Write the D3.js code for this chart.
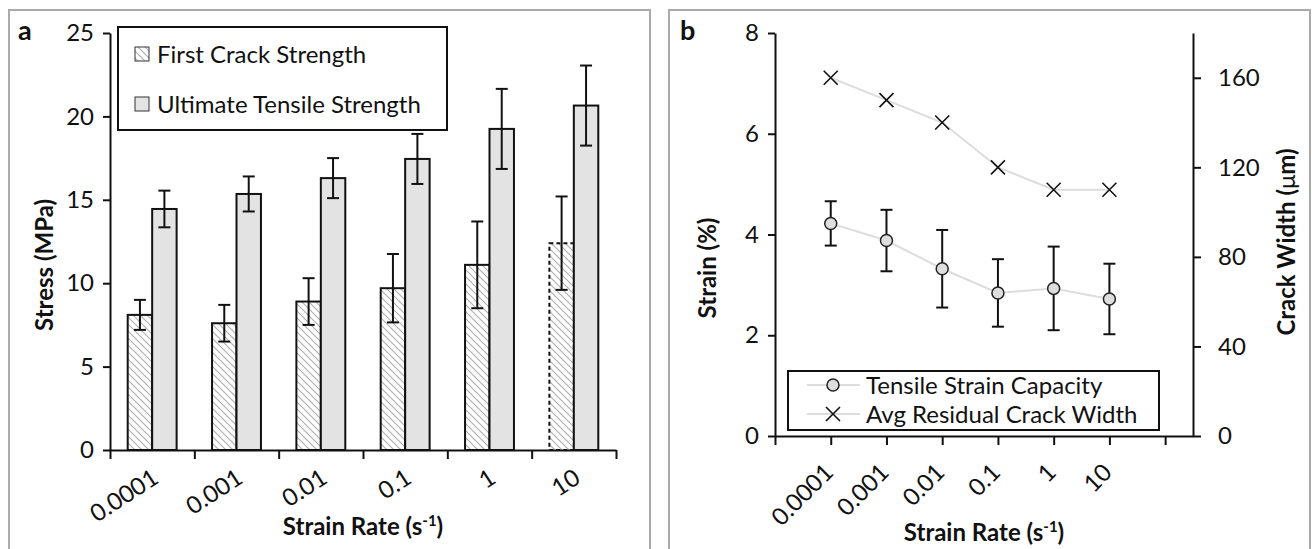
<!DOCTYPE html>
<html>
<head>
<meta charset="utf-8">
<script src="https://cdn.jsdelivr.net/npm/d3@7"></script>
<style>
body { margin: 0; background: #fff; }
text { font-family: Lato, "Open Sans", sans-serif; fill: #111; }
</style>
</head>
<body>
<svg id="chart" width="1312" height="549"></svg>
<script>
// values
var rates = ["0.0001", "0.001", "0.01", "0.1", "1", "10"];
var firstCrack = [8.1, 7.6, 8.9, 9.7, 11.1, 12.4];
var firstCrackErr = [0.9, 1.1, 1.4, 2.05, 2.6, 2.8];
var ultimate = [14.45, 15.35, 16.3, 17.45, 19.25, 20.65];
var ultimateErr = [1.1, 1.05, 1.2, 1.5, 2.4, 2.4];
var stressTicks = [0, 5, 10, 15, 20, 25];

var strain = [4.22, 3.88, 3.32, 2.84, 2.93, 2.72];
var strainErr = [0.44, 0.61, 0.77, 0.67, 0.83, 0.70];
var crackWidth = [160, 150, 140, 120, 110, 110];
var strainTicks = [0, 2, 4, 6, 8];
var widthTicks = [0, 40, 80, 120, 160];

var svg = d3.select("#chart");
var fs = 24;     // tick and legend text
var tfs = 24;    // bold axis titles

var defs = svg.append("defs");
defs.append("pattern")
    .attr("id", "hatch")
    .attr("patternUnits", "userSpaceOnUse")
    .attr("width", 7).attr("height", 7)
  .append("path")
    .attr("d", "M0,0L7,7M-1,6L1,8M6,-1L8,1")
    .attr("stroke", "#b0b0b0")
    .attr("stroke-width", 1.2);

// panel frames
svg.append("rect").attr("x", 9).attr("y", 10).attr("width", 641).attr("height", 560)
    .attr("fill", "none").attr("stroke", "#aaa").attr("stroke-width", 2);
svg.append("rect").attr("x", 669).attr("y", 10).attr("width", 641).attr("height", 560)
    .attr("fill", "none").attr("stroke", "#aaa").attr("stroke-width", 2);

var styleAxis = function(g) {
    g.selectAll("path, line").attr("stroke", "#111").attr("stroke-width", 2);
    g.selectAll("text").style("font-size", fs + "px").style("font-family", "Lato, sans-serif").attr("fill", "#111");
};

var errBar = function(g, x, y0, y1, cap) {
    g.append("line").attr("x1", x).attr("x2", x).attr("y1", y0).attr("y2", y1);
    g.append("line").attr("x1", x - cap).attr("x2", x + cap).attr("y1", y0).attr("y2", y0);
    g.append("line").attr("x1", x - cap).attr("x2", x + cap).attr("y1", y1).attr("y2", y1);
};

var rateTitle = function(g, x, y) {
    var t = g.append("text").attr("x", x).attr("y", y).attr("text-anchor", "middle")
        .style("font-size", tfs + "px").style("font-weight", "bold");
    t.append("tspan").text("Strain Rate (s");
    t.append("tspan").attr("dy", -9).style("font-size", "15px").text("-1");
    t.append("tspan").attr("dy", 9).text(")");
};

// ---------------- panel a ----------------
var a = svg.append("g");
var xa = d3.scaleBand().domain(rates).range([110, 616]);
var xaEdge = d3.scaleLinear().domain([0, rates.length]).range([110, 616]);
var ya = d3.scaleLinear().domain([0, 25]).range([450, 33]);
var bw = xa.bandwidth() * 0.29;

a.selectAll(".fc").data(firstCrack).enter().append("rect")
    .attr("x", function(d, i) { return xa(rates[i]) + xa.bandwidth() / 2 - bw; })
    .attr("y", function(d) { return ya(d); })
    .attr("width", bw)
    .attr("height", function(d) { return ya(0) - ya(d); })
    .attr("fill", "url(#hatch)")
    .attr("stroke", "#111").attr("stroke-width", 2)
    .attr("stroke-dasharray", function(d, i) { return i == rates.length - 1 ? "4,3" : null; });

a.selectAll(".uts").data(ultimate).enter().append("rect")
    .attr("x", function(d, i) { return xa(rates[i]) + xa.bandwidth() / 2; })
    .attr("y", function(d) { return ya(d); })
    .attr("width", bw)
    .attr("height", function(d) { return ya(0) - ya(d); })
    .attr("fill", "#e3e3e3")
    .attr("stroke", "#111").attr("stroke-width", 2);

var ea = a.append("g").attr("stroke", "#111").attr("stroke-width", 2);
rates.forEach(function(r, i) {
    var c = xa(r) + xa.bandwidth() / 2;
    errBar(ea, c - bw / 2, ya(firstCrack[i] + firstCrackErr[i]), ya(firstCrack[i] - firstCrackErr[i]), 6);
    errBar(ea, c + bw / 2, ya(ultimate[i] + ultimateErr[i]), ya(ultimate[i] - ultimateErr[i]), 6);
});

a.append("g").attr("transform", "translate(110,0)")
    .call(d3.axisLeft(ya).tickValues(stressTicks).tickSize(7).tickSizeOuter(0).tickPadding(9))
    .call(styleAxis);
a.append("g").attr("transform", "translate(0,450)")
    .call(d3.axisBottom(xaEdge).tickValues(d3.range(0, rates.length + 1)).tickFormat("").tickSize(9).tickSizeOuter(0))
    .call(styleAxis);

a.selectAll(".xl").data(rates).enter().append("text")
    .attr("transform", function(d) { return "translate(" + (xa(d) + xa.bandwidth() / 2 + 8) + ",482) rotate(-33)"; })
    .attr("text-anchor", "end")
    .style("font-size", fs + "px")
    .text(function(d) { return d; });

rateTitle(a, 363, 535);

a.append("text").attr("transform", "translate(53,265) rotate(-90)").attr("text-anchor", "middle")
    .style("font-size", tfs + "px").style("font-weight", "bold").text("Stress (MPa)");
a.append("text").attr("x", 18).attr("y", 40).style("font-size", "27px").style("font-weight", "bold").text("a");

// legend a
var la = a.append("g");
la.append("rect").attr("x", 118).attr("y", 27).attr("width", 329).attr("height", 103)
    .attr("fill", "#fff").attr("stroke", "#111").attr("stroke-width", 2);
[{ label: "First Crack Strength", fill: "url(#hatch)", y: 54 },
 { label: "Ultimate Tensile Strength", fill: "#e3e3e3", y: 104 }].forEach(function(e) {
    la.append("rect").attr("x", 135).attr("y", e.y - 7).attr("width", 14).attr("height", 14)
        .attr("fill", e.fill).attr("stroke", "#333").attr("stroke-width", 1);
    la.append("text").attr("x", 157).attr("y", e.y).attr("dy", "0.36em")
        .style("font-size", fs + "px").text(e.label);
});

// ---------------- panel b ----------------
var b = svg.append("g");
var xb = d3.scaleLinear().domain([0, 7.5]).range([775, 1193]);
var yb = d3.scaleLinear().domain([0, 8]).range([436, 33]);
var yr = d3.scaleLinear().domain([0, 180]).range([436, 33]);
var pos = function(i) { return xb(i + 1); };

var lineS = d3.line().x(function(d, i) { return pos(i); }).y(function(d) { return yb(d); });
var lineW = d3.line().x(function(d, i) { return pos(i); }).y(function(d) { return yr(d); });

b.append("path").datum(crackWidth).attr("d", lineW)
    .attr("fill", "none").attr("stroke", "#ddd").attr("stroke-width", 2);
b.append("path").datum(strain).attr("d", lineS)
    .attr("fill", "none").attr("stroke", "#ddd").attr("stroke-width", 2);

var eb = b.append("g").attr("stroke", "#111").attr("stroke-width", 2);
strain.forEach(function(d, i) {
    errBar(eb, pos(i), yb(d + strainErr[i]), yb(d - strainErr[i]), 6);
});

var cross = function(g, x, y) {
    g.append("path").attr("d", "M" + (x - 7) + "," + (y - 7) + "L" + (x + 7) + "," + (y + 7) +
        "M" + (x - 7) + "," + (y + 7) + "L" + (x + 7) + "," + (y - 7))
        .attr("stroke", "#111").attr("stroke-width", 1.6).attr("fill", "none");
};

b.selectAll(".pt").data(strain).enter().append("circle")
    .attr("cx", function(d, i) { return pos(i); })
    .attr("cy", function(d) { return yb(d); })
    .attr("r", 6)
    .attr("fill", "#dedede").attr("stroke", "#222").attr("stroke-width", 1.5);
crackWidth.forEach(function(d, i) { cross(b, pos(i), yr(d)); });

b.append("g").attr("transform", "translate(775,0)")
    .call(d3.axisLeft(yb).tickValues(strainTicks).tickSize(7).tickSizeOuter(0).tickPadding(9))
    .call(styleAxis);
b.append("g").attr("transform", "translate(1193,0)")
    .call(d3.axisRight(yr).tickValues(widthTicks).tickSize(8).tickSizeOuter(0).tickPadding(17))
    .call(styleAxis);
b.append("g").attr("transform", "translate(0,436)")
    .call(d3.axisBottom(xb).tickValues(d3.range(0, 8)).tickFormat("").tickSize(9).tickSizeOuter(0))
    .call(styleAxis);

b.selectAll(".xl").data(rates).enter().append("text")
    .attr("transform", function(d, i) { return "translate(" + (pos(i) + 4) + ",474) rotate(-45)"; })
    .attr("text-anchor", "end")
    .style("font-size", fs + "px")
    .text(function(d) { return d; });

rateTitle(b, 984, 541);

b.append("text").attr("transform", "translate(716,268) rotate(-90)").attr("text-anchor", "middle")
    .style("font-size", tfs + "px").style("font-weight", "bold").text("Strain (%)");
var tr = b.append("text").attr("transform", "translate(1295,242) rotate(-90)").attr("text-anchor", "middle")
    .style("font-size", tfs + "px").style("font-weight", "bold");
tr.append("tspan").text("Crack Width (");
tr.append("tspan").style("font-weight", "normal").text("\u03bc");
tr.append("tspan").text("m)");
b.append("text").attr("x", 680).attr("y", 40).style("font-size", "27px").style("font-weight", "bold").text("b");

// legend b
var lb = b.append("g");
lb.append("rect").attr("x", 788).attr("y", 371).attr("width", 371).attr("height", 59)
    .attr("fill", "#fff").attr("stroke", "#111").attr("stroke-width", 2);
[{ label: "Tensile Strain Capacity", y: 385, mark: "circle" },
 { label: "Avg Residual Crack Width", y: 414, mark: "cross" }].forEach(function(e) {
    lb.append("line").attr("x1", 807).attr("x2", 860).attr("y1", e.y).attr("y2", e.y)
        .attr("stroke", "#ddd").attr("stroke-width", 2);
    if (e.mark == "circle") {
        lb.append("circle").attr("cx", 833).attr("cy", e.y).attr("r", 6)
            .attr("fill", "#dedede").attr("stroke", "#222").attr("stroke-width", 1.5);
    } else {
        cross(lb, 833, e.y);
    }
    lb.append("text").attr("x", 866).attr("y", e.y).attr("dy", "0.36em")
        .style("font-size", fs + "px").text(e.label);
});
</script>
</body>
</html>
